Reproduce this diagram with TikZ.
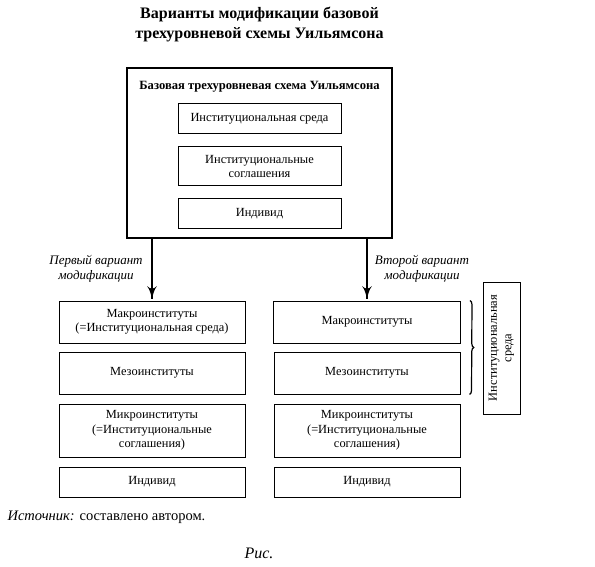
\documentclass[tikz,border=0pt]{standalone}
\usepackage{fontspec}
\setmainfont{Liberation Serif}
\usetikzlibrary{arrows}
\usetikzlibrary{decorations.markings}
\usetikzlibrary{positioning}
\usetikzlibrary{decorations.pathreplacing}
\tikzset{box/.style = {draw, line width = 1pt, align = center, inner sep = 2pt,
                       font = \fontsize{12.4}{14.5}\selectfont}}
\tikzset{frame/.style = {draw, line width = 1.6pt}}
\tikzset{arr/.style = {line width = 1.2pt,
                       decoration = {markings,
                                     mark = at position 1 with {\arrow[scale=2]{latex'}}},
                       postaction = {decorate}}}
\tikzset{note/.style = {align = center, font = \fontsize{13}{15}\selectfont\itshape}}
\tikzset{brace/.style = {decorate, decoration = {brace, amplitude = 4pt}, line width = 1.2pt}}

\begin{document}
\begin{tikzpicture}[x = 1pt, y = -1pt]
      \useasboundingbox (0, 0) rectangle (595, 567);
      \node [align = center, font = \fontsize{16}{20}\selectfont\bfseries] (title) at (259.5, 25)
        {Варианты модификации базовой\\трехуровневой схемы Уильямсона};

      \node [frame, minimum width = 265pt, minimum height = 170pt] (base) at (259.5, 153) {};
      \node [font = \fontsize{12.6}{14}\selectfont\bfseries] (head) at (259.5, 87)
        {Базовая трехуровневая схема Уильямсона};
      \node [box, minimum width = 163pt, minimum height = 30pt] (env0) at (259.5, 119) {Институциональная среда};
      \node [box, minimum width = 163pt, minimum height = 39pt] (agr0) at (259.5, 166.5) {Институциональные\\соглашения};
      \node [box, minimum width = 163pt, minimum height = 30pt] (ind0) at (259.5, 214) {Индивид};

      \node [box, minimum width = 186pt, minimum height = 42pt] (macrol) at (152, 322)
        {Макроинституты\\(=Институциональная среда)};
      \node [box, minimum width = 187pt, minimum height = 42pt] (macror) at (367, 322) {Макроинституты};
      \foreach \x/\s in {152/l, 367/r} {
        \node [box, minimum width = 186pt, minimum height = 42pt] (meso\s) at (\x, 373) {Мезоинституты};
        \node [box, minimum width = 186pt, minimum height = 53pt] (micro\s) at (\x, 430.5)
          {Микроинституты\\(=Институциональные\\соглашения)};
        \node [box, minimum width = 186pt, minimum height = 30pt] (ind\s) at (\x, 482) {Индивид};
      }

      \draw [arr] (base.south -| macrol.north) -- ([yshift = 1.5pt] macrol.north);
      \draw [arr] (base.south -| macror.north) -- ([yshift = 1.5pt] macror.north);
      \node [note] (varl) at (96, 269) {Первый вариант\\модификации};
      \node [note] (varr) at (422, 269) {Второй вариант\\модификации};

      \draw [brace] ([xshift = 9pt] macror.north east) -- ([xshift = 9pt] mesor.south east);
      \node [box, rotate = 90, minimum width = 132pt, minimum height = 37pt] (envr) at (501.5, 348)
        {Институциональная\\среда};

      \node [anchor = west, font = \fontsize{14.5}{16}\selectfont] (src) at (4, 517)
        {\textit{Источник:} составлено автором.};
      \node [font = \fontsize{16}{18}\selectfont\itshape] (fig) at (259, 553) {Рис.};
    \end{tikzpicture}
\end{document}
